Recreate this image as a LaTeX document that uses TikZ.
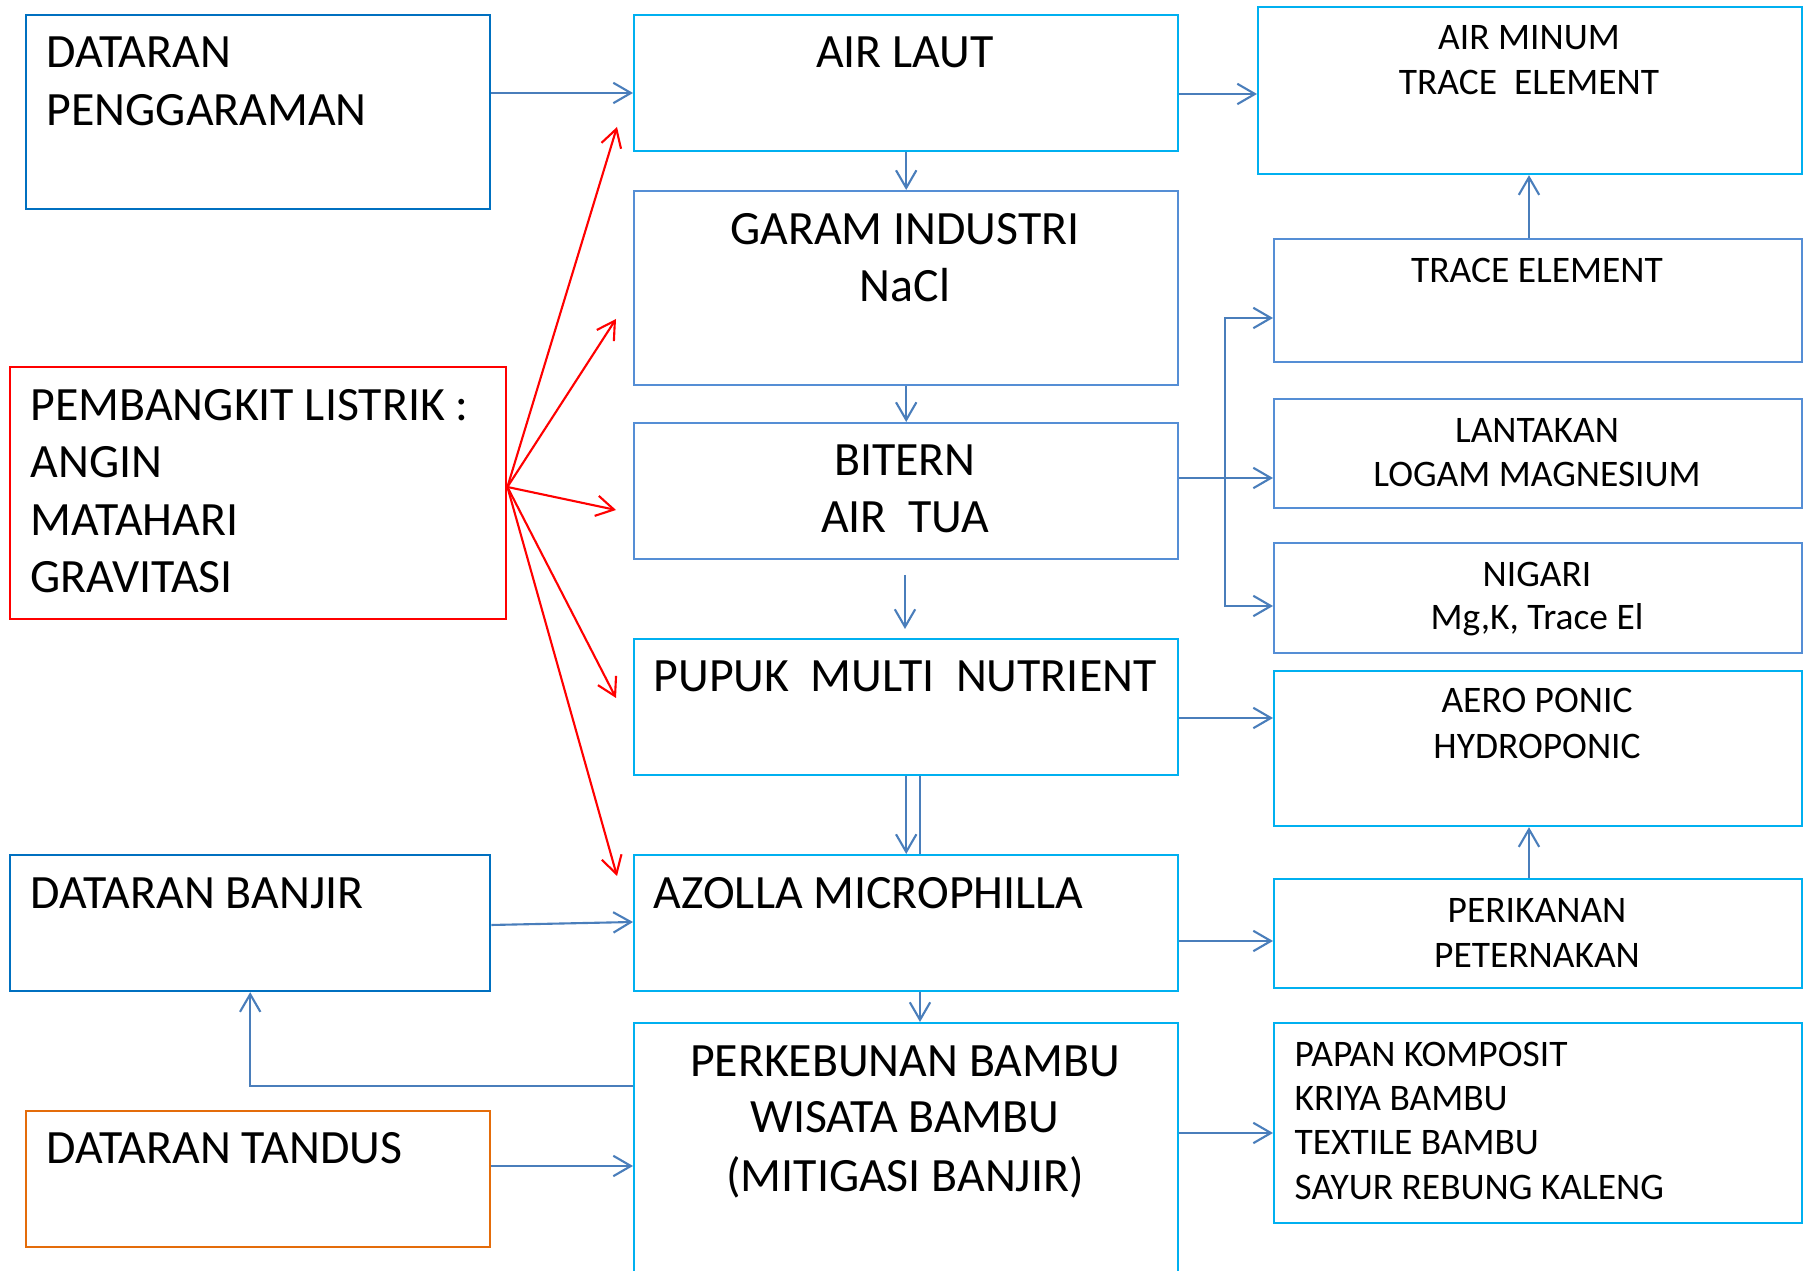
\documentclass[tikz,border=0pt]{standalone}
\usepackage{fontspec}
\setmainfont{Carlito}
\usetikzlibrary{arrows.meta}
\definecolor{dblue}{HTML}{0070C0}
\definecolor{cyanb}{HTML}{00B0F0}
\definecolor{mblue}{HTML}{558ED5}
\definecolor{arrc}{HTML}{4A7EBB}
\definecolor{orng}{HTML}{E46C0A}
\definecolor{redc}{HTML}{FF0000}
\begin{document}
\begin{tikzpicture}[x=0.01cm,y=-0.01cm,
  box/.style={draw, line width=0.6pt, inner sep=0pt, anchor=north west},
  big/.style={font=\fontsize{13.6pt}{16pt}\selectfont, inner sep=0pt},
  small/.style={font=\fontsize{10.65pt}{13pt}\selectfont, inner sep=0pt},
  arr/.style={draw=arrc, line width=0.6pt, -{Straight Barb[length=5pt,width=5.8pt]}},
  rarr/.style={draw=redc, line width=0.6pt, -{Straight Barb[length=5pt,width=5.8pt]}},
  plain/.style={draw=arrc, line width=0.6pt}]
\useasboundingbox (0,0) rectangle (1808,1271);
\clip (0,0) rectangle (1808,1271);

% boxes
\node[box, draw=dblue, minimum width=4.64cm, minimum height=1.94cm] (dp) at (25,14) {};
\node[box, draw=cyanb, minimum width=5.44cm, minimum height=1.36cm] (al) at (633,14) {};
\node[box, draw=cyanb, minimum width=5.44cm, minimum height=1.67cm] (am) at (1257,6) {};
\node[box, draw=mblue, minimum width=5.44cm, minimum height=1.94cm] (gi) at (633,190) {};
\node[box, draw=mblue, minimum width=5.28cm, minimum height=1.23cm] (te) at (1273,238) {};
\node[box, draw=redc, minimum width=4.96cm, minimum height=2.52cm] (pl) at (9,366) {};
\node[box, draw=mblue, minimum width=5.44cm, minimum height=1.36cm] (bt) at (633,422) {};
\node[box, draw=mblue, minimum width=5.28cm, minimum height=1.09cm] (lt) at (1273,398) {};
\node[box, draw=mblue, minimum width=5.28cm, minimum height=1.10cm] (ng) at (1273,542) {};
\node[box, draw=cyanb, minimum width=5.44cm, minimum height=1.36cm] (pp) at (633,638) {};
\node[box, draw=cyanb, minimum width=5.28cm, minimum height=1.55cm] (ap) at (1273,670) {};
\node[box, draw=dblue, minimum width=4.80cm, minimum height=1.36cm] (db) at (9,854) {};
\node[box, draw=cyanb, minimum width=5.44cm, minimum height=1.36cm] (az) at (633,854) {};
\node[box, draw=cyanb, minimum width=5.28cm, minimum height=1.09cm] (pk) at (1273,878) {};
\node[box, draw=cyanb, minimum width=5.44cm, minimum height=2.90cm] (pb) at (633,1022) {};
\node[box, draw=orng, minimum width=4.64cm, minimum height=1.36cm] (dt) at (25,1110) {};
\node[box, draw=cyanb, minimum width=5.28cm, minimum height=2.00cm] (pr) at (1273,1022) {};

% texts
\node[big, anchor=base west] (dpt1) at (46,68) {DATARAN};
\node[big, anchor=base west] (dpt2) at (46,126) {PENGGARAMAN};
\node[big, anchor=base] (alt1) at (905,68) {AIR LAUT};
\node[small, anchor=base] (amt1) at (1529,50) {AIR MINUM};
\node[small, anchor=base] (amt2) at (1529,95) {TRACE\ \ ELEMENT};
\node[big, anchor=base] (git1) at (905,245) {GARAM INDUSTRI};
\node[big, anchor=base] (git2) at (905,302) {NaCl};
\node[small, anchor=base] (tet1) at (1537,283) {TRACE ELEMENT};
\node[big, anchor=base west] (plt1) at (30,421) {PEMBANGKIT LISTRIK :};
\node[big, anchor=base west] (plt2) at (30,478) {ANGIN};
\node[big, anchor=base west] (plt3) at (30,536) {MATAHARI};
\node[big, anchor=base west] (plt4) at (30,593) {GRAVITASI};
\node[big, anchor=base] (btt1) at (905,476) {BITERN};
\node[big, anchor=base] (btt2) at (905,533) {AIR\ \ TUA};
\node[small, anchor=base] (ltt1) at (1537,443) {LANTAKAN};
\node[small, anchor=base] (ltt2) at (1537,487) {LOGAM MAGNESIUM};
\node[small, anchor=base] (ngt1) at (1537,587) {NIGARI};
\node[small, anchor=base] (ngt2) at (1537,630) {Mg,K, Trace El};
\node[big, anchor=base] (ppt1) at (905,692) {PUPUK\ \ MULTI\ \ NUTRIENT};
\node[small, anchor=base] (apt1) at (1537,713) {AERO PONIC};
\node[small, anchor=base] (apt2) at (1537,759) {HYDROPONIC};
\node[big, anchor=base west] (dbt1) at (30,909) {DATARAN BANJIR};
\node[big, anchor=base west] (azt1) at (653,909) {AZOLLA MICROPHILLA};
\node[small, anchor=base] (pkt1) at (1537,923) {PERIKANAN};
\node[small, anchor=base] (pkt2) at (1537,968) {PETERNAKAN};
\node[big, anchor=base] (pbt1) at (905,1077) {PERKEBUNAN BAMBU};
\node[big, anchor=base] (pbt2) at (905,1133) {WISATA BAMBU};
\node[big, anchor=base] (pbt3) at (905,1192) {(MITIGASI BANJIR)};
\node[big, anchor=base west] (dtt1) at (46,1164) {DATARAN TANDUS};
\node[small, anchor=base west] (prt1) at (1294,1067) {PAPAN KOMPOSIT};
\node[small, anchor=base west] (prt2) at (1294,1111) {KRIYA BAMBU};
\node[small, anchor=base west] (prt3) at (1294,1155) {TEXTILE BAMBU};
\node[small, anchor=base west] (prt4) at (1294,1200) {SAYUR REBUNG KALENG};

% blue connectors
\draw[arr] (dp.east |- 0,93) -- (al.west |- 0,93);
\draw[arr] (al.east |- 0,94) -- (am.west |- 0,94);
\draw[arr] (al.south) -- (gi.north);
\draw[arr] (gi.south) -- (bt.north);
\coordinate (btp1) at (905,575);
\coordinate (btp2) at (905,629);
\draw[arr] (btp1) -- (btp2);
\draw[arr] (pp.south) -- (az.north);
\draw[plain] (pp.south -| 920,0) -- (az.north -| 920,0);
\draw[arr] (az.south -| 920,0) -- (pb.north -| 920,0);
\draw[arr] (te.north -| 1529,0) -- (am.south -| 1529,0);
\draw[arr] (bt.east |- 0,478) -- (lt.west |- 0,478);
\coordinate (jn) at (1225,478);
\draw[arr] (jn) |- (te.west |- 0,318);
\draw[arr] (jn) |- (ng.west |- 0,606);
\draw[arr] (pp.east |- 0,718) -- (ap.west |- 0,718);
\draw[arr] (az.east |- 0,941) -- (pk.west |- 0,941);
\draw[arr] (pk.north -| 1529,0) -- (ap.south -| 1529,0);
\draw[arr] (pb.east |- 0,1133) -- (pr.west |- 0,1133);
\draw[arr] (db.east |- 0,925) -- (az.west |- 0,922);
\draw[arr] (pb.west |- 0,1086) -| (db.south);
\draw[arr] (dt.east |- 0,1166) -- (pb.west |- 0,1166);

% red connectors
\coordinate (ps) at (pl.east |- 0,487);
\coordinate (r1) at (617,127);
\coordinate (r2) at (616,319);
\coordinate (r3) at (616,510);
\coordinate (r4) at (616,698);
\coordinate (r5) at (617,876);
\draw[rarr] (ps) -- (r1);
\draw[rarr] (ps) -- (r2);
\draw[rarr] (ps) -- (r3);
\draw[rarr] (ps) -- (r4);
\draw[rarr] (ps) -- (r5);
\end{tikzpicture}
\end{document}
